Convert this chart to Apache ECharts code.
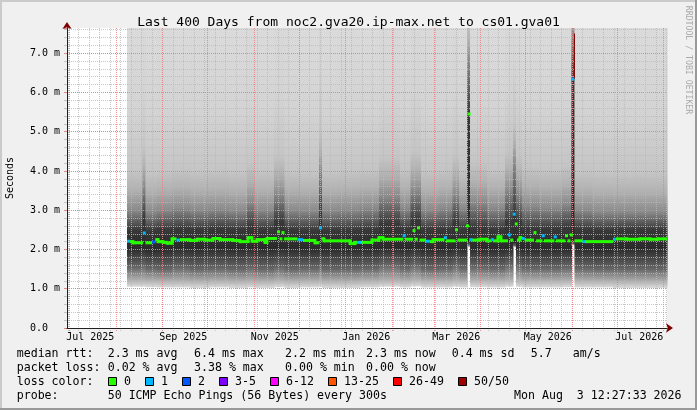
<!DOCTYPE html>
<html><head><meta charset="utf-8">
<script src="https://cdn.jsdelivr.net/npm/echarts@6/dist/echarts.min.js"></script>
<style>html,body{margin:0;padding:0;background:#f0f0f0}#c{width:697px;height:410px}</style>
</head><body><div id="c"></div>
<script>
// ---------------- data ----------------
const chartTitle = 'Last 400 Days from noc2.gva20.ip-max.net to cs01.gva01';
const windowStart = Date.UTC(2025, 5, 29, 12, 27, 33);
const windowDays = 400;
const yMax = 7.64;

const xLabelText  = ['Jul 2025','Sep 2025','Nov 2025','Jan 2026','Mar 2026','May 2026','Jul 2026'];
const xLabelDates = ['2025-07-15','2025-09-15','2025-11-15','2026-01-15','2026-03-16','2026-05-16','2026-07-16'];
const monthStarts = ['2025-07-01','2025-08-01','2025-09-01','2025-10-01','2025-11-01','2025-12-01','2026-01-01',
                     '2026-02-01','2026-03-01','2026-04-01','2026-05-01','2026-06-01','2026-07-01','2026-08-01'];
const firstWeekLine = '2025-06-30';

// smoke: day offset of each column start, ping distribution (ms)
const smokeDay = [40,50.3,52.3,60,70,82,95,108,120,125,138,145,155,168,170,180,195,208,222,229,236,248,257,261.5,266.7,268.7,280,292,297.3,299.3,303.3,315,330,336.3,338.3,350,364,380];
const smokeMin = [1.05,1.05,1.04,1.03,1.03,1.02,1.03,1.02,1.03,1.02,1.04,1.02,1.03,1.05,1.02,1.02,1.03,1.05,1.03,1.06,1.03,1.03,1.05,1.03,2.05,1.04,1.03,1.05,2.05,1.05,1.03,1.03,1.04,2.10,1.03,1.03,1.02,1.02];
const smokeP10 = [1.55,1.60,1.52,1.50,1.55,1.50,1.52,1.50,1.55,1.50,1.55,1.50,1.52,1.60,1.50,1.50,1.52,1.60,1.52,1.60,1.50,1.52,1.60,1.52,2.12,1.55,1.52,1.60,2.10,1.60,1.52,1.52,1.55,2.15,1.52,1.50,1.50,1.50];
const smokeP25 = [2.02,2.05,2.00,2.02,2.05,2.03,2.04,2.03,2.05,2.03,2.05,2.03,2.02,2.05,2.02,2.02,2.02,2.05,2.03,2.06,2.02,2.02,2.05,2.03,2.20,2.03,2.02,2.05,2.18,2.05,2.02,2.02,2.03,2.25,2.02,2.00,2.03,2.03];
const smokeP75 = [2.48,2.80,2.47,2.50,2.52,2.50,2.52,2.50,2.60,2.50,2.70,2.50,2.48,2.90,2.48,2.48,2.50,2.65,2.52,2.75,2.50,2.50,2.70,2.50,5.45,2.55,2.50,2.70,2.90,2.70,2.52,2.52,2.55,6.34,2.50,2.48,2.50,2.50];
const smokeP90 = [3.00,3.60,2.95,3.00,3.05,3.00,3.02,2.98,3.20,3.00,3.40,3.00,2.98,4.00,2.98,3.00,3.05,3.35,3.05,3.50,3.00,3.05,3.40,3.05,6.80,3.20,3.05,3.50,4.20,3.40,3.10,3.05,3.15,7.50,3.00,2.95,2.95,2.95];
const smokeMax = [8.0,8.5,7.9,8.2,8.0,8.3,8.0,7.8,8.3,8.0,8.5,8.1,7.9,9.0,8.0,8.2,8.0,8.6,8.0,8.8,8.1,8.0,8.5,8.0,9.5,8.3,8.0,8.7,9.0,8.6,8.2,8.0,8.2,9.0,8.0,7.9,7.8,7.9];

// median rtt: day offset of each step start, value (ms), lost pings
const medianDay = [40,42,44,50.7,52.3,56.7,59,60.7,64,66.7, 70,73,75.3,82,86.7,92,97.3,102,110.7,115.3,
  120.7,123.3,126.7,132,133.3,140,142,143.3,144.7,153.7, 157.3,165.3,168.3,169.7,171.3,188.7,192,193.3,196,203.3,
  208,210.7,224.3,225.3,230.7,232,233.7,235,239.3,242, 244,251.7,252.7,259,260.3,266.7,267.3,268.7,269.7,275.3,
  280,283,284,287.3,289.3,294,295.7,297.3,299,300, 302,303.3,305,311.3,312.7,317,318,325,326,332.3,
  333.7,335.7,336.7,337.7,338.3,344,345.3,364,366,373.3, 382,388.7,394];
const medianRtt = [2.21,2.20,2.17,2.42,2.17,2.19,2.25,2.20,2.18,2.16, 2.27,2.24,2.25,2.23,2.26,2.24,2.28,2.25,2.23,2.20,
  2.30,2.21,2.25,2.18,2.28,2.45,2.27,2.43,2.27,2.25, 2.23,2.17,2.55,2.27,2.22,2.15,2.18,2.18,2.18,2.24,
  2.30,2.26,2.35,2.26,2.48,2.26,2.55,2.24,2.21,2.20, 2.25,2.30,2.22,2.50,2.24,2.60,5.45,2.25,2.24,2.26,
  2.22,2.25,2.22,2.32,2.22,2.37,2.24,2.90,2.65,2.24, 2.30,2.28,2.24,2.43,2.22,2.35,2.22,2.32,2.22,2.35,
  2.22,2.37,6.34,7.50,2.22,2.20,2.20,2.26,2.27,2.26, 2.27,2.26,2.27];
const medianLoss = [1,0,0,1,0,2,0,0,0,0, 0,1,0,0,0,0,0,0,0,0, 0,0,0,0,0,0,0,0,0,1, 0,0,1,0,0,0,0,1,0,0,
  0,0,1,0,0,0,0,0,1,0, 0,1,0,0,0,0,0,1,0,0, 0,1,0,0,0,1,0,1,0,0, 0,1,0,0,0,1,0,1,0,0,
  0,0,1,50,0,1,0,1,0,0, 0,0,0];

const lossLabels = ['0','1','2','3-5','6-12','13-25','26-49','50/50'];
const lossColors = ['#26ff00','#00b8ff','#0059ff','#7e00ff','#ff00ff','#ff5500','#ff0000','#a10000'];
const lossFloor  = [0,1,2,3,6,13,26,50];

const rttStats  = ['2.3 ms avg','6.4 ms max','2.2 ms min','2.3 ms now','0.4 ms sd','5.7','am/s'];
const lossStats = ['0.02 % avg','3.38 % max','0.00 % min','0.00 % now'];
const probeText = '50 ICMP Echo Pings (56 Bytes) every 300s';
const stampText = 'Mon Aug  3 12:27:33 2026';

// ---------------- helpers ----------------
const DAY = 86400000;
const windowEnd = windowStart + windowDays * DAY;
const ts = d => windowStart + d * DAY;
const dateTs = s => Date.parse(s + 'T00:00:00Z');
const FONT = '"DejaVu Sans Mono", monospace';
const MINOR = 'rgba(185,185,185,0.8)';
const MAJOR = 'rgba(235,120,120,0.8)';

const weekTs = [];
for (let t = dateTs(firstWeekLine); t <= windowEnd; t += 7 * DAY) weekTs.push(t);
const monthTs = monthStarts.map(dateTs);
const labelTs = xLabelDates.map(dateTs);

function lossClass(l) { let c = 0; lossFloor.forEach((f, i) => { if (l >= f) c = i; }); return c; }
function gray(g) { g = Math.round(g); return 'rgb(' + g + ',' + g + ',' + g + ')'; }
function smokeKnots(mn, p10, p25, p75, p90, mx) {
  const raw = [[mx, 0xdc], [p90 + 2.5, 0xd3], [p90 + 1, 0xc5], [p90 + 0.5, 0xb0], [p90, 0x8a],
               [p75, 0x38], [p25, 0x2a], [p10, 0x66], [mn + 0.15, 0xb4], [mn, 0xdb]];
  const out = [raw[0]];
  for (let i = 1; i < raw.length; i++) {
    if (raw[i][0] < out[out.length - 1][0] || i === raw.length - 1) {
      if (i === raw.length - 1) { while (out.length && out[out.length - 1][0] <= raw[i][0]) out.pop(); }
      out.push(raw[i]);
    }
  }
  return out;
}
function interp(k, v) {
  for (let i = 0; i < k.length - 1; i++) {
    const [a, ga] = k[i], [b, gb] = k[i + 1];
    if (v <= a && v >= b) return a === b ? ga : ga + (gb - ga) * (a - v) / (a - b);
  }
  return v > k[0][0] ? k[0][1] : k[k.length - 1][1];
}

const smokeData = smokeDay.map((d, i) => [ts(d), i + 1 < smokeDay.length ? ts(smokeDay[i + 1]) : windowEnd,
  smokeMin[i], smokeP10[i], smokeP25[i], smokeP75[i], smokeP90[i], smokeMax[i]]);
const medianData = medianDay.map((d, i) => [ts(d), i + 1 < medianDay.length ? ts(medianDay[i + 1]) : windowEnd,
  medianRtt[i], medianLoss[i], i ? medianRtt[i - 1] : medianRtt[i], i ? medianLoss[i - 1] : medianLoss[i]]);

function timeAxis(extra) {
  return Object.assign({ type: 'value', min: windowStart, max: windowEnd, position: 'bottom', scale: true,
    axisLine: { show: false, onZero: false }, axisTick: { show: false }, axisLabel: { show: false },
    splitLine: { show: false } }, extra);
}
function valAxis(extra) {
  return Object.assign({ type: 'value', min: 0, max: yMax, position: 'left',
    axisLine: { show: false, onZero: false }, axisTick: { show: false }, axisLabel: { show: false },
    splitLine: { show: false } }, extra);
}
function vGridSeries(name, values, color) {
  return { type: 'custom', name: name, z: 3, silent: true, xAxisIndex: 0, yAxisIndex: 0,
    data: values.map(t => [t]), encode: { x: 0 },
    renderItem: (params, api) => {
      const t = api.value(0);
      const a = api.coord([t, 0]), b = api.coord([t, yMax]);
      const x = Math.round(a[0]) + 0.5;
      return { type: 'line', shape: { x1: x, y1: a[1] + 3, x2: x, y2: b[1] },
        style: { stroke: color, lineWidth: 1, lineDash: [1, 1] } };
    } };
}

// ---------------- legend graphics ----------------
const txt = (s, x, y, size, extra) => ({ type: 'text', x: x, y: y, z: 20,
  style: Object.assign({ text: s, font: size + 'px ' + FONT, fill: '#000', verticalAlign: 'middle' }, extra || {}) });
const statX = [107.7, 194, 285, 366, 451.7, 530.7, 572.7];
const graphics = [];
graphics.push({ type: 'rect', shape: { x: 0, y: 0, width: 697, height: 2 }, style: { fill: '#cbcbcb' }, z: 20 });
graphics.push({ type: 'rect', shape: { x: 0, y: 0, width: 2, height: 410 }, style: { fill: '#cbcbcb' }, z: 20 });
graphics.push({ type: 'rect', shape: { x: 0, y: 408, width: 697, height: 2 }, style: { fill: '#999999' }, z: 20 });
graphics.push({ type: 'rect', shape: { x: 695, y: 0, width: 2, height: 410 }, style: { fill: '#999999' }, z: 20 });
graphics.push(Object.assign(txt('Seconds', 10, 178, 10, { align: 'center' }), { rotation: Math.PI / 2 }));
graphics.push(Object.assign(txt('RRDTOOL / TOBI OETIKER', 688, 60, 8.2, { align: 'center', fill: '#aaaaaa' }), { rotation: -Math.PI / 2 }));
graphics.push(txt('median rtt:', 16.7, 354, 11.6));
rttStats.forEach((s, i) => graphics.push(txt(s, statX[i], 354, 11.6)));
graphics.push(txt('packet loss:', 16.7, 368, 11.6));
lossStats.forEach((s, i) => graphics.push(txt(s, statX[i], 368, 11.6)));
graphics.push(txt('loss color:', 16.7, 382, 11.6));
let bx = 108.3;
lossLabels.forEach((s, i) => {
  graphics.push({ type: 'rect', z: 20, shape: { x: Math.round(bx) + 0.5, y: 377.5, width: 8, height: 8 },
    style: { fill: lossColors[i], stroke: '#000', lineWidth: 1 } });
  graphics.push(txt(s, bx + 15.7, 382, 11.6));
  bx += 30 + 7 * s.length;
});
graphics.push(txt('probe:', 16.7, 396, 11.6));
graphics.push(txt(probeText, 107.7, 396, 11.6));
graphics.push(txt(stampText, 514, 396, 11.6));

// ---------------- chart ----------------
const chart = echarts.init(document.getElementById('c'), null, { renderer: 'canvas' });
chart.setOption({
  backgroundColor: '#f0f0f0',
  animation: false,
  title: { text: chartTitle, left: 'center', top: 11,
    textStyle: { fontFamily: FONT, fontSize: 13, fontWeight: 'normal', color: '#000' } },
  grid: { left: 67, top: 28, right: 30, bottom: 82, show: true, backgroundColor: '#ffffff', borderWidth: 0 },
  xAxis: [
    timeAxis({ z: 3, axisLine: { show: true, onZero: false, symbol: ['none', 'arrow'], symbolSize: [7, 7],
      symbolOffset: [0, 6], lineStyle: { color: '#7f0000', width: 1 } } }),
    timeAxis({ z: 4, axisLine: { show: true, onZero: false, lineStyle: { color: '#202020', width: 1 } },
      axisLabel: { show: true, customValues: labelTs, margin: 4, fontFamily: FONT, fontSize: 10, color: '#000',
        formatter: v => { const i = labelTs.indexOf(v); return i >= 0 ? xLabelText[i] : ''; } } })
  ],
  yAxis: [
    valAxis({ z: 3, interval: 0.2,
      axisTick: { show: true, length: 3, lineStyle: { color: MINOR } },
      splitLine: { show: true, showMaxLine: false, lineStyle: { color: MINOR, type: [1, 1], width: 1 } } }),
    valAxis({ z: 3, interval: 1,
      axisTick: { show: true, length: 3, lineStyle: { color: MAJOR } },
      splitLine: { show: true, showMaxLine: false, showMinLine: false, lineStyle: { color: MAJOR, type: [1, 1], width: 1 } } }),
    valAxis({ z: 4, axisLine: { show: true, onZero: false, symbol: ['none', 'arrow'], symbolSize: [7, 7],
      symbolOffset: [0, 6], lineStyle: { color: '#7f0000', width: 1 } } }),
    valAxis({ z: 5, interval: 1, axisLine: { show: true, onZero: false, lineStyle: { color: '#202020', width: 1 } },
      axisLabel: { show: true, showMaxLabel: false, margin: 7, fontFamily: FONT, fontSize: 10, color: '#000',
        formatter: v => v === 0 ? '0.0  ' : v.toFixed(1) + ' m' } })
  ],
  series: [
    { type: 'custom', name: 'smoke', z: 1, silent: true, xAxisIndex: 0, yAxisIndex: 0, data: smokeData,
      encode: { x: [0, 1], y: [2, 7] },
      renderItem: (params, api) => {
        const t0 = api.value(0), t1 = api.value(1);
        const mn = api.value(2), p10 = api.value(3), p25 = api.value(4), p75 = api.value(5), p90 = api.value(6), mx = api.value(7);
        const top = Math.min(mx, yMax);
        const a = api.coord([t0, top]), b = api.coord([t1, mn]);
        const k = smokeKnots(mn, p10, p25, p75, p90, mx);
        const stops = [{ offset: 0, color: gray(interp(k, top)) }];
        k.forEach(([v, g]) => { if (v < top && v > mn) stops.push({ offset: (top - v) / (top - mn), color: gray(g) }); });
        stops.push({ offset: 1, color: gray(interp(k, mn)) });
        return { type: 'rect', shape: { x: a[0], y: a[1], width: b[0] - a[0] + 0.6, height: b[1] - a[1] },
          style: { fill: new echarts.graphic.LinearGradient(0, 0, 0, 1, stops) } };
      } },
    vGridSeries('weekGrid', weekTs, MINOR),
    vGridSeries('monthGrid', monthTs, MAJOR),
    { type: 'custom', name: 'median', z: 6, silent: true, xAxisIndex: 0, yAxisIndex: 0, data: medianData,
      encode: { x: [0, 1], y: 2 },
      renderItem: (params, api) => {
        const t0 = api.value(0), t1 = api.value(1), v = api.value(2), loss = api.value(3), pv = api.value(4), pl = api.value(5);
        const a = api.coord([t0, v]), b = api.coord([t1, v]);
        const cls = lossClass(loss), col = lossColors[cls];
        const children = [];
        if (cls === lossColors.length - 1) {
          const p = api.coord([t0, pv]);
          children.push({ type: 'line', shape: { x1: Math.round(a[0]) + 0.5, y1: p[1], x2: Math.round(a[0]) + 0.5, y2: a[1] },
            style: { stroke: '#7a0a0a', lineWidth: 1 } });
          return { type: 'group', children };
        }
        let x1 = a[0], x2 = b[0];
        if (x2 - x1 < 3) { const c = (x1 + x2) / 2; x1 = c - 1.5; x2 = c + 1.5; }
        children.push({ type: 'line', z2: cls ? 10 : 5, shape: { x1: x1, y1: a[1], x2: x2, y2: a[1] },
          style: { stroke: col, lineWidth: 3 } });
        if (lossClass(pl) === cls && Math.abs(pv - v) <= 0.12 && pv !== v) {
          const p = api.coord([t0, pv]);
          children.push({ type: 'line', z2: 5, shape: { x1: a[0], y1: p[1], x2: a[0], y2: a[1] },
            style: { stroke: col, lineWidth: 3, lineCap: 'square' } });
        }
        return { type: 'group', children };
      } }
  ],
  graphic: graphics
});
</script>
</body></html>
